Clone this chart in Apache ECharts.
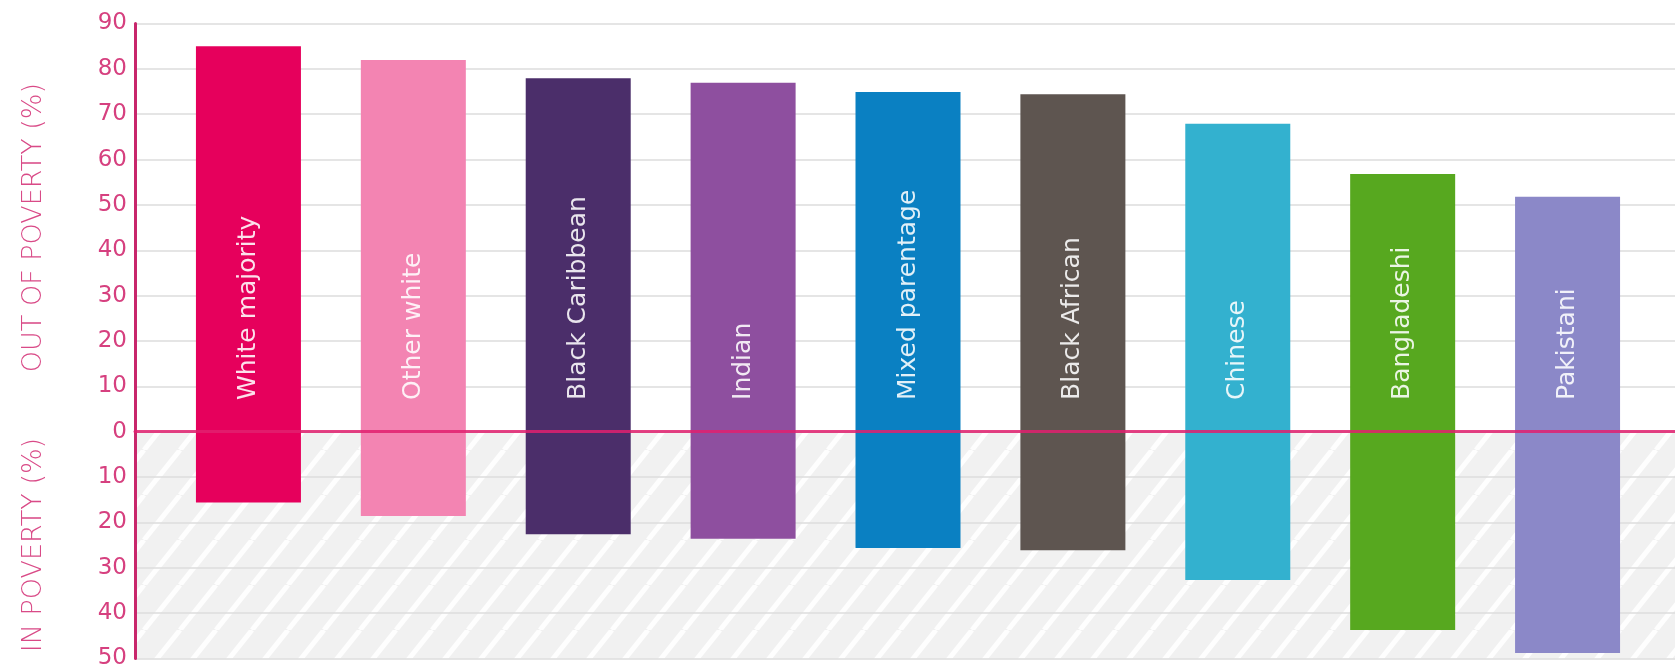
<!DOCTYPE html>
<html>
<head>
<meta charset="utf-8">
<script src="https://cdn.jsdelivr.net/npm/echarts@6/dist/echarts.min.js"></script>
<style>
html,body{margin:0;padding:0;background:#fff;}
#chart{width:1675px;height:670px;}
</style>
</head>
<body>
<div id="chart"></div>
<script>
const categories = ['White majority','Other white','Black Caribbean','Indian','Mixed parentage','Black African','Chinese','Bangladeshi','Pakistani'];
const outOfPoverty = [85, 82, 78, 77, 75, 74.5, 68, 57, 52];
const inPoverty = [15, 18, 22, 23, 25, 25.5, 32, 43, 48];
const barColors = ['#e6005c','#f384b2','#4b2e6a','#8e4f9f','#0a80c2','#5e5550','#33b1cf','#57a81f','#8b88c8'];
const yTickMin = -50, yTickMax = 90, yTickStep = 10;

// hatch pattern
const tile = document.createElement('canvas');
const TW = 36, TH = 45;
tile.width = TW; tile.height = TH;
const ctx = tile.getContext('2d');
ctx.fillStyle = '#f1f1f1';
ctx.fillRect(0, 0, TW, TH);
ctx.strokeStyle = 'rgba(255,255,255,0.9)';
ctx.lineWidth = 5;
for (let k = -1; k <= 1; k++) {
  ctx.beginPath();
  ctx.moveTo(k * TW, TH);
  ctx.lineTo(k * TW + TW, 0);
  ctx.stroke();
}
const hatch = {image: tile, repeat: 'repeat'};
const nBelow = (0 - yTickMin) / yTickStep;
const nAbove = (yTickMax - 0) / yTickStep;
const areaColors = [];
for (let i = 0; i < nBelow; i++) areaColors.push(hatch);
for (let i = 0; i < nAbove; i++) areaColors.push('rgba(255,255,255,0)');

const chart = echarts.init(document.getElementById('chart'), null, {renderer: 'canvas'});
const option = {
  animation: false,
  grid: [
    {left: 135, right: 0, top: 23.5, bottom: 8},
    {left: 166, right: 25, top: 23.5, bottom: 8}
  ],
  xAxis: [
    {gridIndex: 0, type: 'value', min: 0, max: 1, z: 10,
     axisLine: {show: true, onZero: true, lineStyle: {color: '#e0206f', width: 3, opacity: 0.85}},
     axisTick: {show: false}, axisLabel: {show: false}, splitLine: {show: false}},
    {gridIndex: 1, type: 'category', data: categories,
     axisLine: {show: false}, axisTick: {show: false}, axisLabel: {show: false}}
  ],
  yAxis: [
    {gridIndex: 0, type: 'value', min: yTickMin, max: yTickMax, interval: yTickStep,
     axisLine: {show: true, lineStyle: {color: '#c8266b', width: 3}},
     axisTick: {show: false},
     axisLabel: {color: '#d6407f', fontSize: 23, fontFamily: 'DejaVu Sans', margin: 8,
                 formatter: v => String(Math.abs(v))},
     splitLine: {show: true, lineStyle: {color: '#dcdcdc', width: 1.5}},
     splitArea: {show: true, areaStyle: {color: areaColors}}},
    {gridIndex: 1, type: 'value', min: yTickMin, max: yTickMax, interval: yTickStep, show: false,
     splitLine: {show: false}}
  ],
  series: [
    {
      name: 'Out of poverty', type: 'bar', xAxisIndex: 1, yAxisIndex: 1, stack: 'total',
      barWidth: 105,
      data: outOfPoverty.map((v, i) => ({value: v, itemStyle: {color: barColors[i]}})),
      label: {
        show: true, position: 'insideBottom', rotate: 90, align: 'left', verticalAlign: 'middle',
        distance: 34, color: 'rgba(255,255,255,0.88)', fontSize: 25, fontFamily: 'DejaVu Sans',
        formatter: p => categories[p.dataIndex]
      }
    },
    {
      name: 'In poverty', type: 'bar', xAxisIndex: 1, yAxisIndex: 1, stack: 'total',
      barWidth: 105,
      data: inPoverty.map((v, i) => ({value: -v, itemStyle: {color: barColors[i]}}))
    }
  ]
};
chart.setOption(option);

const xName = 34;
const yTop = chart.convertToPixel({yAxisIndex: 0}, yTickMax / 2);
const yBot = chart.convertToPixel({yAxisIndex: 0}, yTickMin / 2);
const nameStyle = {fill: '#d94a87', fontSize: 27, fontFamily: 'DejaVu Sans', fontWeight: 200,
                   align: 'center', verticalAlign: 'middle'};
chart.setOption({
  graphic: [
    {type: 'text', x: xName, y: yTop, rotation: Math.PI / 2,
     style: Object.assign({text: 'OUT OF POVERTY (%)'}, nameStyle)},
    {type: 'text', x: xName, y: yBot, rotation: Math.PI / 2,
     style: Object.assign({text: 'IN POVERTY (%)'}, nameStyle)}
  ]
});
</script>
</body>
</html>
